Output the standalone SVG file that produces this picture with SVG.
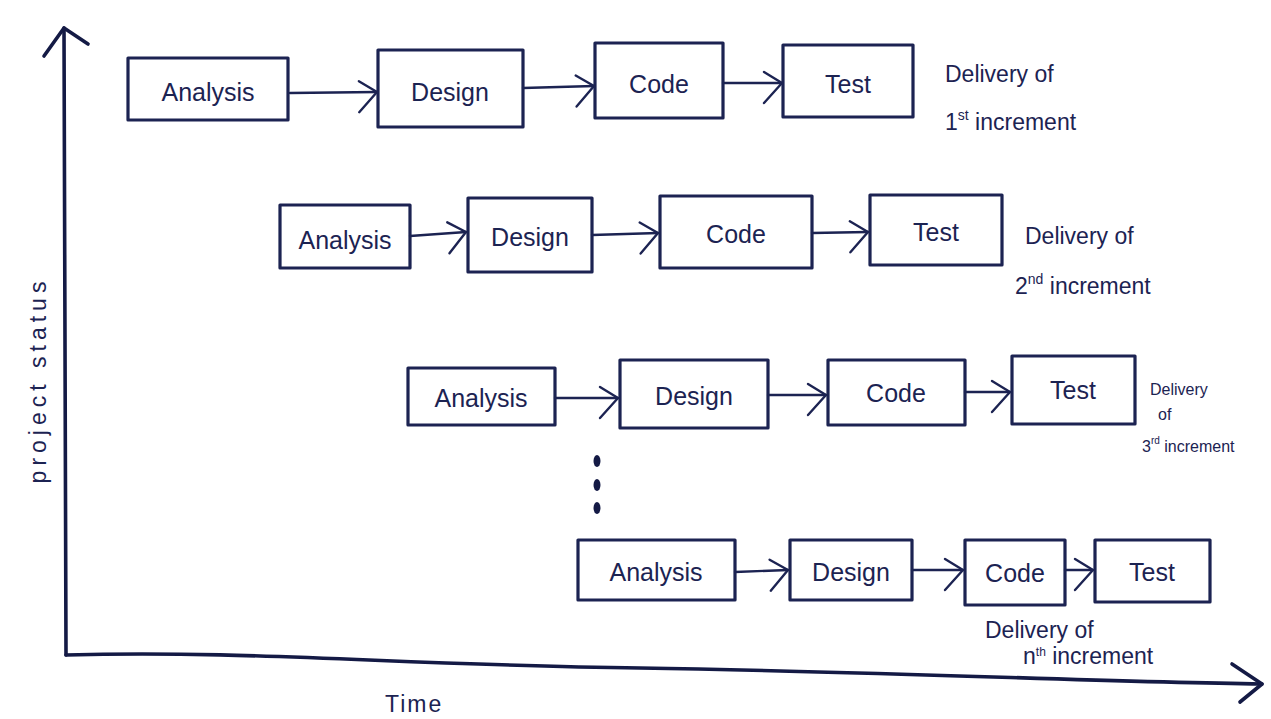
<svg xmlns="http://www.w3.org/2000/svg" width="1271" height="719" viewBox="0 0 1271 719">
<defs>
<style>
.box{fill:none;stroke:#1c2352;stroke-width:3.2;stroke-linejoin:round}
.lbl{font-family:"Liberation Sans",Arial,sans-serif;font-size:25px;fill:#1c2352;text-anchor:middle;dominant-baseline:central}
.dl{font-family:"Liberation Sans",Arial,sans-serif;font-size:23px;fill:#1c2352}
.dls{font-family:"Liberation Sans",Arial,sans-serif;font-size:16px;fill:#1c2352}
.con{fill:none;stroke:#1c2352;stroke-width:2.4;stroke-linecap:round}
.axis{fill:none;stroke:#141a45;stroke-width:3.6;stroke-linecap:round;stroke-linejoin:round}
</style>
<marker id="arr" markerUnits="userSpaceOnUse" viewBox="-24 -16 28 40" refX="0" refY="0" markerWidth="28" markerHeight="40" orient="auto">
<path d="M-18,-11 L0,0 L-18,20" fill="none" stroke="#1c2352" stroke-width="2.4" stroke-linecap="round" stroke-linejoin="round"/>
</marker>
</defs>
<rect width="1271" height="719" fill="#ffffff"/>

<g id="axes">
<path class="axis" d="M66,655 L64,28"/>
<path class="axis" d="M44,56 L64,28 L88,44"/>
<path class="axis" d="M66,655 C250,650 400,665 640,668 C900,672 1100,682 1262,684"/>
<path class="axis" d="M1232,664 L1262,684 L1240,702"/>
<text class="dl" transform="translate(46,380) rotate(-90)" text-anchor="middle" font-size="23" letter-spacing="5">project status</text>
<text class="dl" x="385" y="712" font-size="24" letter-spacing="2">Time</text>
</g>

<g id="connectors">
<path class="con" marker-end="url(#arr)" d="M290,93 L377,92"/>
<path class="con" marker-end="url(#arr)" d="M523,88 L594,86"/>
<path class="con" marker-end="url(#arr)" d="M723,83 L782,83"/>
<path class="con" marker-end="url(#arr)" d="M410,236 L466,232"/>
<path class="con" marker-end="url(#arr)" d="M592,235 L658,233"/>
<path class="con" marker-end="url(#arr)" d="M812,233 L868,232"/>
<path class="con" marker-end="url(#arr)" d="M555,398 L618,398"/>
<path class="con" marker-end="url(#arr)" d="M768,395 L826,395"/>
<path class="con" marker-end="url(#arr)" d="M965,392 L1010,392"/>
<path class="con" marker-end="url(#arr)" d="M735,572 L788,570"/>
<path class="con" marker-end="url(#arr)" d="M912,570 L963,570"/>
<path class="con" marker-end="url(#arr)" d="M1065,570 L1093,570"/>
</g>

<g id="row1">
<g id="analysis1"><rect class="box" x="128" y="58" width="160" height="62"/><text class="lbl" x="208" y="92">Analysis</text></g>
<g id="design1"><rect class="box" x="378" y="50" width="145" height="77"/><text class="lbl" x="450" y="92">Design</text></g>
<g id="code1"><rect class="box" x="595" y="43" width="128" height="75"/><text class="lbl" x="659" y="84">Code</text></g>
<g id="test1"><rect class="box" x="783" y="45" width="130" height="72"/><text class="lbl" x="848" y="84">Test</text></g>
<g id="delivery1"><text class="dl" x="945" y="82">Delivery of</text><text class="dl" x="945" y="130"><tspan>1</tspan><tspan font-size="14" dy="-10">st</tspan><tspan dy="10"> increment</tspan></text></g>
</g>

<g id="row2">
<g id="analysis2"><rect class="box" x="280" y="205" width="130" height="63"/><text class="lbl" x="345" y="240">Analysis</text></g>
<g id="design2"><rect class="box" x="468" y="198" width="124" height="74"/><text class="lbl" x="530" y="237">Design</text></g>
<g id="code2"><rect class="box" x="660" y="196" width="152" height="72"/><text class="lbl" x="736" y="234">Code</text></g>
<g id="test2"><rect class="box" x="870" y="195" width="132" height="70"/><text class="lbl" x="936" y="232">Test</text></g>
<g id="delivery2"><text class="dl" x="1025" y="244">Delivery of</text><text class="dl" x="1015" y="294"><tspan>2</tspan><tspan font-size="14" dy="-10">nd</tspan><tspan dy="10"> increment</tspan></text></g>
</g>

<g id="row3">
<g id="analysis3"><rect class="box" x="408" y="368" width="147" height="57"/><text class="lbl" x="481" y="398">Analysis</text></g>
<g id="design3"><rect class="box" x="620" y="360" width="148" height="68"/><text class="lbl" x="694" y="396">Design</text></g>
<g id="code3"><rect class="box" x="828" y="360" width="137" height="65"/><text class="lbl" x="896" y="393">Code</text></g>
<g id="test3"><rect class="box" x="1012" y="356" width="123" height="68"/><text class="lbl" x="1073" y="390">Test</text></g>
<g id="delivery3"><text class="dls" x="1150" y="395">Delivery</text><text class="dls" x="1158" y="420">of</text><text class="dls" x="1142" y="452"><tspan>3</tspan><tspan font-size="10" dy="-8">rd</tspan><tspan dy="8"> increment</tspan></text></g>
</g>

<g id="ellipsis">
<ellipse cx="597" cy="461" rx="3.5" ry="6" fill="#141a45"/>
<ellipse cx="597" cy="485" rx="3.5" ry="6" fill="#141a45"/>
<ellipse cx="597" cy="508" rx="3.5" ry="6" fill="#141a45"/>
</g>

<g id="row4">
<g id="analysis4"><rect class="box" x="578" y="540" width="157" height="60"/><text class="lbl" x="656" y="572">Analysis</text></g>
<g id="design4"><rect class="box" x="790" y="540" width="122" height="60"/><text class="lbl" x="851" y="572">Design</text></g>
<g id="code4"><rect class="box" x="965" y="540" width="100" height="65"/><text class="lbl" x="1015" y="573" font-size="22">Code</text></g>
<g id="test4"><rect class="box" x="1095" y="540" width="115" height="62"/><text class="lbl" x="1152" y="572">Test</text></g>
<g id="delivery4"><text class="dl" x="985" y="638" font-size="20">Delivery of</text><text class="dl" x="1023" y="664" font-size="20"><tspan>n</tspan><tspan font-size="12" dy="-8">th</tspan><tspan dy="8"> increment</tspan></text></g>
</g>
</svg>
